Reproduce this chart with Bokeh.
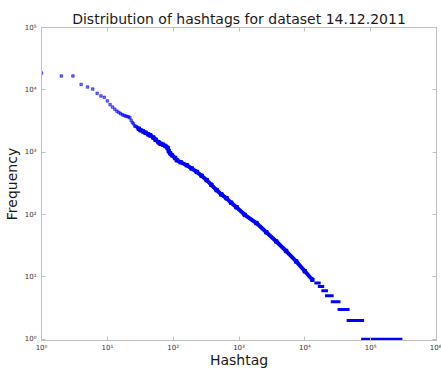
from bokeh.plotting import figure
from bokeh.models import Range1d, LogAxis, FixedTicker, CustomJSTickFormatter
from bokeh.embed import file_html
from bokeh.resources import INLINE

title_text = "Distribution of hashtags for dataset 14.12.2011"
x_label = "Hashtag"
y_label = "Frequency"
x_ticks = [1, 10, 100, 1000, 10000, 100000, 1000000]
y_ticks = [1, 10, 100, 1000, 10000, 100000]

# top-ranked hashtags (individual points)
head_rank = list(range(1, 31))
head_freq = [18600, 16700, 16700, 12200, 11100, 10300, 8790, 8000, 7590, 6650,
             5800, 5300, 4900, 4550, 4330, 4130, 3980, 3880, 3800, 3740,
             3690, 3560, 3230, 3000, 2850, 2620, 2600, 2550, 2450, 2380]

# dense middle part (readings along the curve)
body_rank = [30, 32, 35, 38, 42, 45, 50, 54, 60, 64, 70, 76, 82, 86, 90, 96,
             107, 114, 130, 161, 190, 228, 270, 323, 380, 457, 540, 647, 760,
             916, 1224, 1838, 2600, 3687, 5200, 7396, 10000, 13000]
body_freq = [2380, 2250, 2150, 2050, 1930, 1860, 1720, 1590, 1440, 1370, 1320,
             1256, 1180, 1040, 960, 893, 808, 743, 690, 618, 550, 484, 420, 356,
             300, 247, 210, 182, 155, 131, 99, 73, 52, 37, 26, 17.7, 12.3, 9]

# low-frequency plateaus: frequency, first rank, last rank
tail_freq = [8, 7, 6, 5, 4, 3, 2, 1]
tail_start = [14700, 16600, 18800, 21400, 26100, 33100, 45500, 75500]
tail_end = [16500, 18700, 21300, 26000, 33000, 45400, 75400, 287600]

BLUE = "#0000ff"
GREY = "#bfbfbf"

p = figure(width=441, height=372, x_axis_type="log", y_axis_type="log",
           x_range=Range1d(1, 1e6), y_range=Range1d(0.955, 1e5),
           output_backend="svg", toolbar_location=None, title=title_text,
           min_border_left=5, min_border_right=5, min_border_top=27,
           min_border_bottom=32)
p.background_fill_color = "white"
p.border_fill_color = "white"
p.outline_line_color = GREY
p.grid.visible = False

p.title.text_font = "DejaVu Sans"
p.title.text_font_size = "14px"
p.title.text_font_style = "normal"
p.title.text_color = "#1a1a1a"
p.title.align = "center"
p.title.standoff = 1

sup_fmt = CustomJSTickFormatter(code="""
const sup = {'0':'\u2070','1':'\u00b9','2':'\u00b2','3':'\u00b3','4':'\u2074','5':'\u2075','6':'\u2076','-':'\u207b'};
const e = Math.round(Math.log10(tick));
return '10' + String(e).split('').map(c => sup[c]).join('');
""")
blank_fmt = CustomJSTickFormatter(code="return '';")


def style(ax, ticks, fmt):
    ax.ticker = FixedTicker(ticks=ticks, minor_ticks=[])
    ax.formatter = fmt
    ax.major_tick_in = 4
    ax.major_tick_out = 0
    ax.minor_tick_line_color = None
    ax.axis_line_color = GREY
    ax.major_tick_line_color = GREY
    ax.major_label_text_font = "DejaVu Sans"
    ax.major_label_text_font_size = "7px"
    ax.major_label_text_color = "#333333"
    ax.axis_label_text_font = "DejaVu Sans"
    ax.axis_label_text_font_size = "14px"
    ax.axis_label_text_font_style = "normal"
    ax.axis_label_text_color = "#1a1a1a"
    ax.axis_label_standoff = 0


style(p.xaxis[0], x_ticks, sup_fmt)
style(p.yaxis[0], y_ticks, sup_fmt)
p.xaxis[0].axis_label = x_label
p.yaxis[0].axis_label = y_label
p.xaxis[0].major_label_standoff = 3
p.xaxis[0].axis_label_standoff = -3
p.yaxis[0].major_label_standoff = 5
p.yaxis[0].axis_label_standoff = 2

top = LogAxis()
style(top, x_ticks, blank_fmt)
top.major_label_standoff = 0
top.major_label_text_font_size = "0px"
p.add_layout(top, "above")
right = LogAxis()
style(right, y_ticks, blank_fmt)
right.major_label_standoff = 0
right.major_label_text_font_size = "0px"
p.add_layout(right, "right")

p.line(body_rank, body_freq, line_width=4, color=BLUE)
p.scatter(body_rank, body_freq, marker="square", size=3.5, color=BLUE)
p.scatter(head_rank, head_freq, marker="square", size=2.5, color=BLUE, alpha=0.55)
p.segment(x0=tail_start, y0=tail_freq, x1=tail_end, y1=tail_freq,
          line_width=3, color=BLUE, line_cap="square")

open("out.html", "w").write(file_html(p, INLINE))
